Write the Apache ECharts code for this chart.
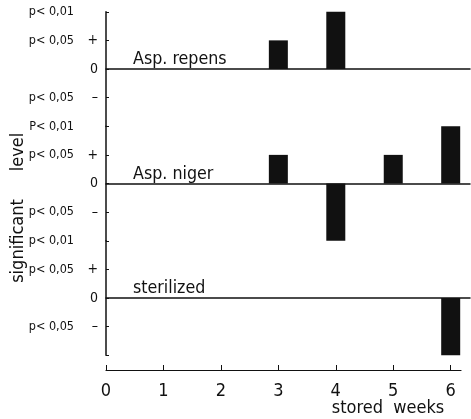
<!DOCTYPE html>
<html>
<head>
<meta charset="utf-8">
<script src="https://cdn.jsdelivr.net/npm/echarts@6/dist/echarts.min.js"></script>
<style>
  html, body { margin: 0; padding: 0; background: #fff; }
  #main { width: 471px; height: 419px; }
</style>
</head>
<body>
<div id="main"></div>
<script>
var weeks = [0, 1, 2, 3, 4, 5, 6];
var panelNames = ['Asp. repens', 'Asp. niger', 'sterilized'];
// [week, level]  level: +2 p<0,01 up, +1 p<0,05 up, -1 p<0,05 down, -2 p<0,01 down
var repensData = [[3, 1], [4, 2]];
var nigerData = [[3, 1], [4, -2], [5, 1], [6, 2]];
var sterilizedData = [[6, -2]];
// tick texts for levels -2..2 per panel
var repensTicks = ['P< 0,01', 'p< 0,05', '', 'p< 0,05', 'p< 0,01'];
var nigerTicks = ['p< 0,01', 'p< 0,05', '', 'p< 0,05', ''];
var sterilTicks = ['', 'p< 0,05', '', 'p< 0,05', ''];
var tickSigns = ['', '–', '0', '+', ''];

var FONT = "'Liberation Sans Narrow', 'DejaVu Sans Condensed', sans-serif";
var INK = '#111';

var chart = echarts.init(document.getElementById('main'));

var panelTop = 11.75, panelH = 114.5;
var grids = [], xAxes = [], yAxes = [], series = [];
var tickSets = [repensTicks, nigerTicks, sterilTicks];
var datasets = [repensData, nigerData, sterilizedData];

for (var i = 0; i < 3; i++) {
  grids.push({ left: 106, width: 364, top: panelTop + i * panelH, height: panelH, outerBoundsMode: 'none' });
  xAxes.push({
    type: 'value', gridIndex: i, min: 0, max: 6.336,
    axisLine: { show: true, onZero: true, lineStyle: { color: INK, width: 1.5 } },
    axisTick: { show: false }, axisLabel: { show: false }, splitLine: { show: false }
  });
  (function (ticks) {
    yAxes.push({
      type: 'value', gridIndex: i, min: -2, max: 2, interval: 1,
      axisLine: { show: true, lineStyle: { color: INK, width: 1.5 } },
      axisTick: { show: true, inside: true, length: 3, lineStyle: { color: INK } },
      splitLine: { show: false },
      axisLabel: {
        margin: 8,
        formatter: function (v) {
          var k = Math.round(v) + 2;
          var t = ticks[k], s = tickSigns[k];
          if (k === 4 && !t) return '';
          if (k === 0 && !t) return '';
          return '{t|' + t + '}{s|' + s + '}';
        },
        rich: {
          t: { fontFamily: FONT, fontSize: 12.5, color: INK },
          s: { fontFamily: FONT, fontSize: 14, color: INK, width: 24, align: 'right' }
        }
      }
    });
  })(tickSets[i]);
  series.push({
    type: 'bar', xAxisIndex: i, yAxisIndex: i,
    data: datasets[i], barWidth: 19,
    itemStyle: { color: INK }
  });
}

// bottom week axis
grids.push({ left: 106, width: 355, top: 360, height: 10, outerBoundsMode: 'none' });
xAxes.push({
  type: 'value', gridIndex: 3, min: 0, max: 6.18,
  axisLine: { show: true, onZero: false, lineStyle: { color: INK, width: 1.2 } },
  axisTick: { show: true, inside: true, length: 5, customValues: weeks, lineStyle: { color: INK } },
  axisLabel: { customValues: weeks, margin: 12, fontFamily: FONT, fontSize: 18, color: INK },
  splitLine: { show: false }
});
yAxes.push({ type: 'value', gridIndex: 3, show: false, min: 0, max: 1 });

var graphics = [];
var labelY = [60, 175, 289];
for (var j = 0; j < 3; j++) {
  graphics.push({
    type: 'text', left: 133, top: labelY[j] - 10,
    style: { text: panelNames[j], font: '17.7px ' + FONT, fill: INK }
  });
}
graphics.push({
  type: 'text', x: 18, y: 152, rotation: Math.PI / 2,
  style: { text: 'level', font: '18px ' + FONT, fill: INK, align: 'center', verticalAlign: 'middle' }
});
graphics.push({
  type: 'text', x: 18, y: 241, rotation: Math.PI / 2,
  style: { text: 'significant', font: '18px ' + FONT, fill: INK, align: 'center', verticalAlign: 'middle' }
});
graphics.push({
  type: 'text', x: 388, y: 408,
  style: { text: 'stored  weeks', font: '18px ' + FONT, fill: INK, align: 'center', verticalAlign: 'middle' }
});

chart.setOption({
  backgroundColor: '#fff',
  animation: false,
  grid: grids,
  xAxis: xAxes,
  yAxis: yAxes,
  series: series,
  graphic: graphics
});
</script>
</body>
</html>
